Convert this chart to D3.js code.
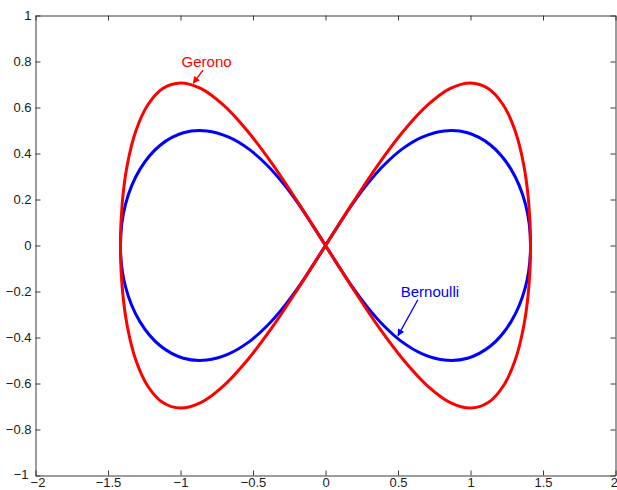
<!DOCTYPE html>
<html>
<head>
<meta charset="utf-8">
<script src="https://cdn.jsdelivr.net/npm/d3@7/dist/d3.min.js"></script>
<style>
  html, body { margin: 0; padding: 0; background: #fff; }
  svg { display: block; }
  text { font-family: "Liberation Sans", Arial, Helvetica, sans-serif; }
</style>
</head>
<body>
<svg id="chart" width="617" height="490"></svg>
<script>
// Axis ticks
const xTicks = [-2, -1.5, -1, -0.5, 0, 0.5, 1, 1.5, 2];
const xTickLabels = ["\u22122", "\u22121.5", "\u22121", "\u22120.5", "0", "0.5", "1", "1.5", "2"];
const yTicks = [-1, -0.8, -0.6, -0.4, -0.2, 0, 0.2, 0.4, 0.6, 0.8, 1];
const yTickLabels = ["\u22121", "\u22120.8", "\u22120.6", "\u22120.4", "\u22120.2", "0", "0.2", "0.4", "0.6", "0.8", "1"];

// Lemniscate of Gerono, traced once round the figure eight
const gerono = [
  [1.414, 0], [1.402, 0.183], [1.366, 0.354], [1.307, 0.500], [1.225, 0.612], [1.122, 0.683],
  [1.000, 0.707], [0.861, 0.683], [0.707, 0.612], [0.541, 0.500], [0.366, 0.354], [0.185, 0.183],
  [0, 0], [-0.185, -0.183], [-0.366, -0.354], [-0.541, -0.500], [-0.707, -0.612], [-0.861, -0.683],
  [-1.000, -0.707], [-1.122, -0.683], [-1.225, -0.612], [-1.307, -0.500], [-1.366, -0.354], [-1.402, -0.183],
  [-1.414, 0], [-1.402, 0.183], [-1.366, 0.354], [-1.307, 0.500], [-1.225, 0.612], [-1.122, 0.683],
  [-1.000, 0.707], [-0.861, 0.683], [-0.707, 0.612], [-0.541, 0.500], [-0.366, 0.354], [-0.185, 0.183],
  [0, 0], [0.185, -0.183], [0.366, -0.354], [0.541, -0.500], [0.707, -0.612], [0.861, -0.683],
  [1.000, -0.707], [1.122, -0.683], [1.225, -0.612], [1.307, -0.500], [1.366, -0.354], [1.402, -0.183]
];

// Lemniscate of Bernoulli
const bernoulli = [
  [1.414, 0], [1.379, 0.180], [1.280, 0.331], [1.140, 0.436], [0.980, 0.490], [0.819, 0.498],
  [0.667, 0.471], [0.528, 0.419], [0.404, 0.350], [0.292, 0.270], [0.189, 0.183], [0.093, 0.092],
  [0, 0], [-0.093, -0.092], [-0.189, -0.183], [-0.292, -0.270], [-0.404, -0.350], [-0.528, -0.419],
  [-0.667, -0.471], [-0.819, -0.498], [-0.980, -0.490], [-1.140, -0.436], [-1.280, -0.331], [-1.379, -0.180],
  [-1.414, 0], [-1.379, 0.180], [-1.280, 0.331], [-1.140, 0.436], [-0.980, 0.490], [-0.819, 0.498],
  [-0.667, 0.471], [-0.528, 0.419], [-0.404, 0.350], [-0.292, 0.270], [-0.189, 0.183], [-0.093, 0.092],
  [0, 0], [0.093, -0.092], [0.189, -0.183], [0.292, -0.270], [0.404, -0.350], [0.528, -0.419],
  [0.667, -0.471], [0.819, -0.498], [0.980, -0.490], [1.140, -0.436], [1.280, -0.331], [1.379, -0.180]
];

// Curve names with the arrows that point at them (data coordinates)
const labelNames = ["Gerono", "Bernoulli"];
const labelAt = [[-0.82, 0.775], [0.72, -0.225]];
const arrowFrom = [[-0.845, 0.762], [0.637, -0.236]];
const arrowTo = [[-0.912, 0.706], [0.500, -0.392]];

const svg = d3.select("#chart");
const plotLeft = 35.5, plotRight = 615.5, plotTop = 15.5, plotBottom = 475.5;

const x = d3.scaleLinear().domain([-2, 2]).range([plotLeft, plotRight]);
const y = d3.scaleLinear().domain([-1, 1]).range([plotBottom, plotTop]);

const colors = { Gerono: "#ff0000", Bernoulli: "#0000ff" };

// arrowheads
const defs = svg.append("defs");
labelNames.forEach(n => {
  defs.append("marker")
    .attr("id", "head-" + n)
    .attr("viewBox", "0 0 10 10")
    .attr("refX", 9).attr("refY", 5)
    .attr("markerWidth", 9).attr("markerHeight", 7)
    .attr("markerUnits", "userSpaceOnUse")
    .attr("orient", "auto")
    .append("path")
    .attr("d", "M0,0 L10,5 L0,10 Z")
    .attr("fill", colors[n]);
});

const tickLen = 5;
const axisColor = "#3a3a3a";

// bottom axis
const xAxisB = d3.axisBottom(x).tickValues(xTicks)
  .tickFormat((d, i) => xTickLabels[i]).tickSizeInner(-tickLen).tickSizeOuter(0).tickPadding(2.5);
const gxb = svg.append("g").attr("transform", `translate(0,${plotBottom})`).call(xAxisB);
// keep the end labels clear of the page edge and of the corner y label
gxb.selectAll(".tick text").filter(d => d === xTicks[xTicks.length - 1])
  .attr("text-anchor", "end").attr("dx", "2");
gxb.selectAll(".tick text").filter(d => d === xTicks[0])
  .attr("dx", "2");

// top axis (ticks only)
const xAxisT = d3.axisTop(x).tickValues(xTicks).tickFormat("").tickSizeInner(-tickLen).tickSizeOuter(0);
const gxt = svg.append("g").attr("transform", `translate(0,${plotTop})`).call(xAxisT);

// left axis
const yAxisL = d3.axisLeft(y).tickValues(yTicks)
  .tickFormat((d, i) => yTickLabels[i]).tickSizeInner(-tickLen).tickSizeOuter(0).tickPadding(4);
const gyl = svg.append("g").attr("transform", `translate(${plotLeft},0)`).call(yAxisL);
gyl.selectAll(".tick text").filter(d => d === yTicks[0])
  .attr("dx", "-3").attr("dy", "0.2em");

// right axis (ticks only)
const yAxisR = d3.axisRight(y).tickValues(yTicks).tickFormat("").tickSizeInner(-tickLen).tickSizeOuter(0);
const gyr = svg.append("g").attr("transform", `translate(${plotRight},0)`).call(yAxisR);

[gxb, gxt, gyl, gyr].forEach(g => {
  g.select(".domain").attr("stroke", axisColor);
  g.selectAll(".tick line").attr("stroke", axisColor);
  g.selectAll(".tick text").attr("fill", "#1a1a1a").style("font-size", "13px");
});

// curves
const line = d3.line()
  .x(d => x(d[0]))
  .y(d => y(d[1]))
  .curve(d3.curveCatmullRomClosed.alpha(0.5));

svg.append("path")
  .datum(bernoulli)
  .attr("d", line)
  .attr("fill", "none")
  .attr("stroke", colors.Bernoulli)
  .attr("stroke-width", 3)
  .attr("stroke-linejoin", "round");

svg.append("path")
  .datum(gerono)
  .attr("d", line)
  .attr("fill", "none")
  .attr("stroke", colors.Gerono)
  .attr("stroke-width", 3)
  .attr("stroke-linejoin", "round");

// curve labels and arrows
labelNames.forEach((n, i) => {
  svg.append("line")
    .attr("x1", x(arrowFrom[i][0])).attr("y1", y(arrowFrom[i][1]))
    .attr("x2", x(arrowTo[i][0])).attr("y2", y(arrowTo[i][1]))
    .attr("stroke", colors[n]).attr("stroke-width", 1.3)
    .attr("marker-end", `url(#head-${n})`);
  svg.append("text")
    .attr("x", x(labelAt[i][0])).attr("y", y(labelAt[i][1]))
    .attr("text-anchor", "middle")
    .attr("fill", colors[n])
    .style("font-size", "15px")
    .text(n);
});
</script>
</body>
</html>
